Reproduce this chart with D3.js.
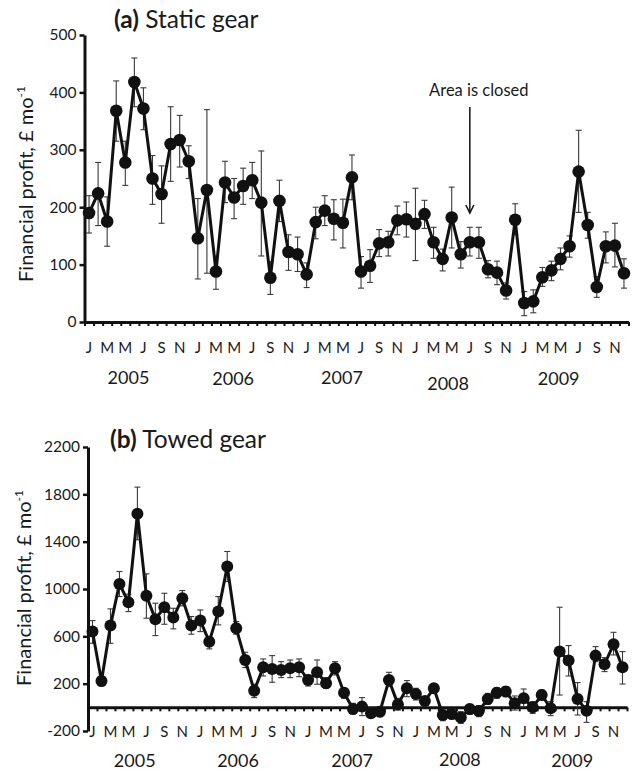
<!DOCTYPE html>
<html><head><meta charset="utf-8">
<script src="https://cdn.jsdelivr.net/npm/d3@7"></script>
<style>
body{margin:0;background:#fff}
svg{display:block}
text{font-family:Lato,"Open Sans",sans-serif;fill:#1a1a1a}
</style>
</head><body>
<svg id="chart" width="635" height="770"></svg>
<script>
// ---------- data ----------
const years = [2005, 2006, 2007, 2008, 2009];
const monthLetters = ["J","F","M","A","M","J","J","A","S","O","N","D"];

// (a) Static gear, monthly mean profit and error-bar ends (£ per month)
const staticMean = [
  190, 224, 175, 368, 278, 418, 372, 250, 223, 310, 317, 280,
  146, 230,  88, 243, 217, 237, 247, 208,  77, 211, 122, 118,
   83, 174, 194, 180, 173, 252,  88,  98, 137, 139, 177, 179,
  171, 188, 139, 110, 182, 118, 139, 139,  92,  86,  55, 178,
   33,  36,  78,  90, 110, 132, 262, 169,  61, 132, 133,  85
];
const staticHigh = [
  220, 278, 218, 420, 315, 460, 408, 290, 272, 375, 360, 307,
  215, 370, 115, 280, 250, 268, 278, 298, 105, 247, 152, 148,
  103, 200, 220, 213, 214, 291, 114, 126, 161, 158, 202, 209,
  233, 212, 165, 127, 235, 140, 165, 165, 107, 106,  68, 206,
   53,  56,  95, 106, 129, 150, 334, 191,  79, 157, 172, 110
];
const staticLow = [
  155, 168, 132, 315, 238, 375, 335, 205, 172, 245, 270, 250,
   75,  85,  57, 208, 180, 205, 215, 115,  48, 175,  90,  88,
   60, 145, 168, 143, 129, 213,  59,  69, 114, 115, 152, 148,
  107, 163, 111,  89, 129,  94, 115, 111,  77,  65,  40, 152,
   11,  16,  62,  72,  91, 113, 191, 146,  43, 103,  96,  59
];

// (b) Towed gear
const towedMean = [
  640, 223, 691, 1043, 888, 1636, 942, 744, 846, 759, 922, 691,
  733, 555, 809, 1190, 668,  400, 141, 338, 324, 316, 330, 338,
  231, 296, 203,  330, 124,  -14,   6, -51, -37, 231,  25, 161,
  113,  54, 161,  -65, -56,  -85, -14, -31,  70, 124, 133,  34,
   76,   0, 104,   -8, 471,  395,  70, -28, 437, 364, 533, 338
];
const towedHigh = [
  733, 259, 832, 1148, 956, 1861, 1128, 880, 964, 837, 987, 767,
  823, 598, 936, 1317, 725,  465,  195, 409, 437, 386, 400, 409,
  274, 400, 251,  386, 161,   34,   82,  -8,   6, 296,  76, 226,
  161,  90, 197,  -23, -14,  -37,   25,  14, 118, 166, 175,  96,
  155,  48, 147,   48, 846,  522,  209,  48, 513, 420, 634, 471
];
const towedLow = [
  541, 180, 541,  936, 809, 1416, 753, 606, 702, 663, 857, 618,
  640, 494, 697, 1063, 618,  336,  82, 265, 212, 251, 251, 259,
  180, 195, 161,  274,  76,  -56, -70, -87, -79, 175, -23,  90,
   62,  14, 118, -113, -99, -135, -59, -79,  25,  76,  90, -23,
    6, -51,  62,  -70, 104,  265, -65,-127, 386, 302, 443, 197
];

const staticTicks = [0, 100, 200, 300, 400, 500];
const towedTicks = [-200, 200, 600, 1000, 1400, 1800, 2200];
const closureMonth = 42; // July 2008
const closureLabel = "Area is closed";

// ---------- layout ----------
const svg = d3.select("#chart");
const months = d3.range(years.length * 12);

function panel(cfg) {
  const g = svg.append("g");
  const x = d3.scaleLinear().domain([0, months.length]).range(cfg.xRange);
  const y = d3.scaleLinear().domain(cfg.yDomain).range(cfg.yRange);
  const cx = i => x(i + 0.5);

  // y axis
  const ya = g.append("g").attr("transform", `translate(${cfg.xRange[0]},0)`)
    .call(d3.axisLeft(y).tickValues(cfg.yTicks).tickSize(5).tickSizeOuter(0).tickPadding(3)
      .tickFormat(d => String(d)));
  ya.select(".domain").attr("stroke", "#111").attr("stroke-width", 3);
  ya.selectAll(".tick line").attr("stroke", "#111").attr("stroke-width", 2.5);
  ya.selectAll(".tick text").style("font-size", "15.5px").style("font-family", "Lato,'Open Sans',sans-serif").attr("fill", "#1a1a1a");

  // x axis at y = 0
  const y0 = y(0);
  const xa = g.append("g").attr("transform", `translate(0,${y0})`)
    .call(d3.axisBottom(x).tickValues(d3.range(months.length + 1)).tickSize(4).tickSizeOuter(0).tickFormat(""));
  xa.select(".domain").attr("stroke", "#111").attr("stroke-width", 3);
  xa.selectAll(".tick line").attr("stroke", "#111").attr("stroke-width", 2);

  // month letters
  g.append("g").selectAll("text").data(months.filter(i => i % 2 === 0)).join("text")
    .attr("x", cx).attr("y", y0 + cfg.monthDy)
    .attr("text-anchor", "middle").style("font-size", "15px")
    .text(i => monthLetters[i % 12]);

  // year labels
  g.append("g").selectAll("text").data(years).join("text")
    .attr("x", (d, k) => x(cfg.yearPos[k])).attr("y", (d, k) => cfg.yearY[k])
    .attr("text-anchor", "middle").style("font-size", "18px")
    .text(d => d);

  // error bars
  const eb = g.append("g").attr("stroke", "#3a3a3a").attr("stroke-width", 1.1);
  months.forEach(i => {
    const xc = cx(i), yh = y(cfg.high[i]), yl = y(cfg.low[i]);
    eb.append("line").attr("x1", xc).attr("x2", xc).attr("y1", yh).attr("y2", yl);
    eb.append("line").attr("x1", xc - 3).attr("x2", xc + 3).attr("y1", yh).attr("y2", yh);
    eb.append("line").attr("x1", xc - 3).attr("x2", xc + 3).attr("y1", yl).attr("y2", yl);
  });

  // line
  g.append("path").datum(months)
    .attr("fill", "none").attr("stroke", "#111").attr("stroke-width", 3).attr("stroke-linejoin", "round")
    .attr("d", d3.line().x(cx).y(i => y(cfg.mean[i])));

  // markers
  g.append("g").selectAll("circle").data(months).join("circle")
    .attr("cx", cx).attr("cy", i => y(cfg.mean[i])).attr("r", cfg.r).attr("fill", "#111");

  // title
  const t = g.append("text").attr("x", cfg.titleX).attr("y", cfg.titleY).style("font-size", "24.5px");
  t.append("tspan").style("font-weight", "bold").text(cfg.tag);
  t.append("tspan").text(" " + cfg.title);

  // y label
  const yl = g.append("text")
    .attr("transform", `translate(${cfg.ylabX},${cfg.ylabY}) rotate(-90)`)
    .attr("text-anchor", "middle").style("font-size", "20px");
  yl.append("tspan").text("Financial profit, £ mo");
  yl.append("tspan").attr("dy", -8).style("font-size", "12px").text("-1");

  return {x, y, cx};
}

const a = panel({
  xRange: [84.5, 628.5], yDomain: [0, 500], yRange: [322, 35], yTicks: staticTicks,
  mean: staticMean, high: staticHigh, low: staticLow,
  monthDy: 31, yearPos: [4.85, 16.4, 28.4, 40.1, 52.3], yearY: [384, 385, 384, 390, 385],
  r: 6.3, tag: "(a)", title: "Static gear", titleX: 114, titleY: 28,
  ylabX: 33, ylabY: 184
});

const b = panel({
  xRange: [88, 627], yDomain: [-200, 2200], yRange: [731, 447], yTicks: towedTicks,
  mean: towedMean, high: towedHigh, low: towedLow,
  monthDy: 30, yearPos: [5.2, 16.7, 29.4, 41.4, 53.9], yearY: [767, 767, 767, 766, 767],
  r: 6, tag: "(b)", title: "Towed gear", titleX: 110, titleY: 448,
  ylabX: 31, ylabY: 588
});

// closure annotation on panel (a)
const ax = a.cx(closureMonth);
svg.append("text").attr("x", ax + 9).attr("y", 96).attr("text-anchor", "middle")
  .style("font-size", "16.5px").text(closureLabel);
svg.append("line").attr("x1", ax).attr("x2", ax).attr("y1", 107).attr("y2", 213)
  .attr("stroke", "#111").attr("stroke-width", 1.5);
svg.append("path").attr("d", `M${ax - 4},${205} L${ax},${213} L${ax + 4},${205}`)
  .attr("fill", "none").attr("stroke", "#111").attr("stroke-width", 1.5);
</script>
</body></html>
